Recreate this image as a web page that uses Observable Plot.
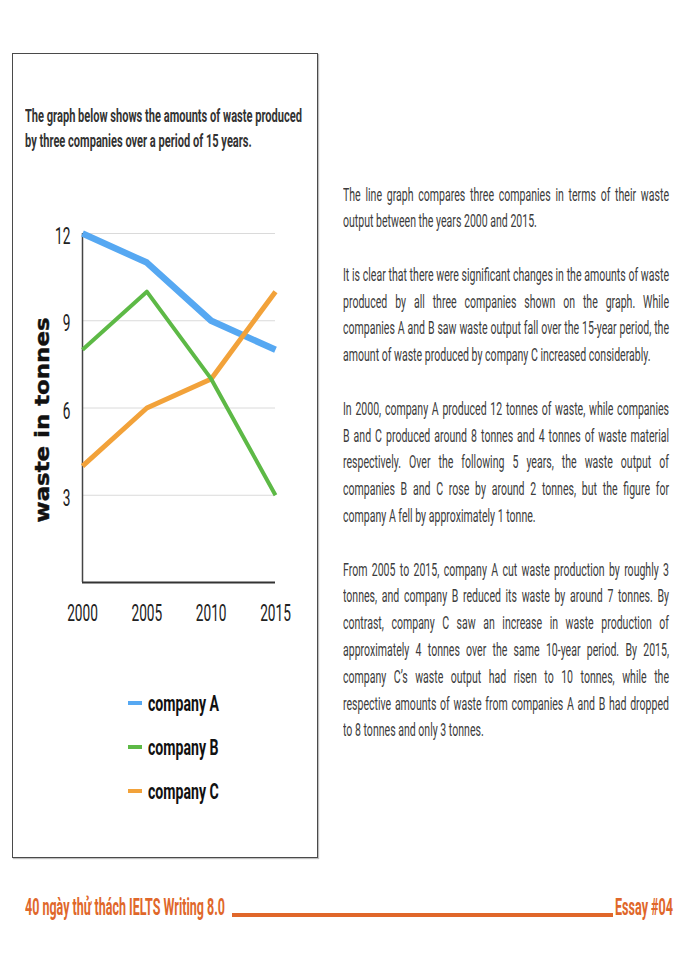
<!DOCTYPE html>
<html>
<head>
<meta charset="utf-8">
<script src="https://cdn.jsdelivr.net/npm/d3@7"></script>
<script src="https://cdn.jsdelivr.net/npm/@observablehq/plot@0.6"></script>
<style>
  html, body { margin: 0; padding: 0; background: #fff; }
  #page { position: relative; width: 700px; height: 960px; overflow: hidden; background: #fff; }
  #box { position: absolute; left: 12px; top: 53px; width: 304px; height: 803px; border: 1px solid #4a4a4a; box-shadow: 1px 1px 1px rgba(0,0,0,0.25); }
  .cond { display: inline-block; white-space: nowrap; transform-origin: left center; }
  #title { position: absolute; left: 25px; top: 104px; font-family: Roboto, sans-serif; font-weight: 700; font-size: 17.5px; line-height: 25px; color: #333; }
  #title div { height: 25px; }
  #chart { position: absolute; left: 20px; top: 200px; }
  #legend { position: absolute; left: 128px; top: 681px; font-family: Roboto, sans-serif; font-weight: 700; font-size: 22px; color: #111; }
  .lg { display: flex; align-items: center; height: 44px; }
  .sw { width: 14px; height: 3.5px; margin-right: 6px; flex: none; }
  #essay { position: absolute; left: 343px; top: 181.5px; font-family: Roboto, sans-serif; font-size: 18px; line-height: 26.8px; color: #3c3c3c; }
  #essay .para { margin-bottom: 26.8px; }
  #essay .ln { height: 26.8px; overflow: visible; transform-origin: left center; text-align: justify; }
  #essay .ln.full { text-align-last: justify; }
  #footer { position: absolute; left: 0; top: 0; width: 700px; height: 960px; font-family: Roboto, sans-serif; font-weight: 700; font-size: 23px; color: #e0672a; }
  #footer .fl { position: absolute; left: 25px; top: 895px; line-height: 26px; }
  #footer .fr { position: absolute; left: 615px; top: 895px; line-height: 26px; }
  #footer .rule { position: absolute; left: 232px; width: 381px; top: 913px; height: 3.5px; background: #e0672a; }
</style>
</head>
<body>
<div id="page">
  <div id="box"></div>
  <div id="title"></div>
  <div id="chart"></div>
  <div id="legend"></div>
  <div id="essay"></div>
  <div id="footer"></div>
</div>
<script>
// ---- Data ----
const years = [2000, 2005, 2010, 2015];
const companyA = [12, 11, 9, 8];
const companyB = [8, 10, 7, 3];
const companyC = [4, 6, 7, 10];
const seriesNames = ["company A", "company B", "company C"];
const seriesColors = ["#56a8f2", "#5db946", "#f2a23a"];
const yTicks = [3, 6, 9, 12];
const titleLines = [
  "The graph below shows the amounts of waste produced",
  "by three companies over a period of 15 years."
];
const yLabel = "waste in tonnes";
const paragraphs = [
  ["The line graph compares three companies in terms of their waste",
   "output between the years 2000 and 2015."],
  ["It is clear that there were significant changes in the amounts of waste",
   "produced by all three companies shown on the graph. While",
   "companies A and B saw waste output fall over the 15-year period, the",
   "amount of waste produced by company C increased considerably."],
  ["In 2000, company A produced 12 tonnes of waste, while companies",
   "B and C produced around 8 tonnes and 4 tonnes of waste material",
   "respectively. Over the following 5 years, the waste output of",
   "companies B and C rose by around 2 tonnes, but the figure for",
   "company A fell by approximately 1 tonne."],
  ["From 2005 to 2015, company A cut waste production by roughly 3",
   "tonnes, and company B reduced its waste by around 7 tonnes. By",
   "contrast, company C saw an increase in waste production of",
   "approximately 4 tonnes over the same 10-year period. By 2015,",
   "company C\u2019s waste output had risen to 10 tonnes, while the",
   "respective amounts of waste from companies A and B had dropped",
   "to 8 tonnes and only 3 tonnes."]
];
const footerLeft = "40 ngày thử thách IELTS Writing 8.0";
const footerRight = "Essay #04";

// ---- Table ----
const allValues = [companyA, companyB, companyC];
const rows = [];
seriesNames.forEach((name, i) => {
  years.forEach((yr, j) => rows.push({company: name, year: yr, value: allValues[i][j]}));
});
const widthFor = {"company A": 6.5, "company B": 4, "company C": 5};

const lineMarks = ["company A", "company C", "company B"].map(name =>
  Plot.line(rows.filter(d => d.company === name), {
    x: "year", y: "value",
    stroke: seriesColors[seriesNames.indexOf(name)], strokeWidth: widthFor[name],
    strokeLinecap: "butt", strokeLinejoin: "round"
  })
);

const plot = Plot.plot({
  width: 290,
  height: 440,
  marginLeft: 62,
  marginTop: 33,
  marginRight: 35,
  marginBottom: 58,
  style: { fontFamily: "Roboto, sans-serif", background: "transparent", overflow: "visible" },
  x: { domain: [2000, 2015] },
  y: { domain: [0, 12] },
  marks: [
    Plot.gridY(yTicks, { stroke: "#dadada", strokeOpacity: 1, strokeWidth: 1 }),
    Plot.axisX(years, { tickSize: 0, tickPadding: 0, dy: 31, lineAnchor: "middle", tickFormat: d => String(d), fontSize: 24, fill: "#222", label: null }),
    Plot.axisY(yTicks, { tickSize: 0, tickPadding: 12, dy: 3, fontSize: 24, fill: "#222", label: null }),
    Plot.ruleY([0], { stroke: "#333", strokeWidth: 2 }),
    Plot.ruleX([2000], { stroke: "#444", strokeWidth: 1.5 }),
    Plot.text([yLabel], {
      frameAnchor: "left", dx: -40, dy: 12, rotate: -90, text: d => d,
      fontSize: 19, fontWeight: "bold", fontFamily: "DejaVu Sans, sans-serif", fill: "#111",
      stroke: "#111", strokeWidth: 0.4,
      textAnchor: "middle", lineAnchor: "middle"
    }),
    ...lineMarks
  ]
});
document.getElementById("chart").appendChild(plot);

// condense SVG text (narrow fonts are not installed)
function squeezeSvg(el, factor) {
  const w = el.getComputedTextLength();
  el.setAttribute("textLength", (w * factor).toFixed(2));
  el.setAttribute("lengthAdjust", "spacingAndGlyphs");
}
plot.querySelectorAll('g[aria-label="x-axis tick label"] text, g[aria-label="y-axis tick label"] text')
  .forEach(t => squeezeSvg(t, 0.57));
plot.querySelectorAll("text").forEach(t => {
  if (t.textContent === yLabel) {
    t.setAttribute("textLength", "205");
    t.setAttribute("lengthAdjust", "spacingAndGlyphs");
  }
});

// condensed HTML helpers
function makeCond(parent, text) {
  const s = document.createElement("span");
  s.className = "cond";
  s.textContent = text;
  parent.appendChild(s);
  return s;
}

// Title
const titleEl = document.getElementById("title");
const titleSpans = titleLines.map(t => { const d = document.createElement("div"); titleEl.appendChild(d); return makeCond(d, t); });
const tScale = 277 / titleSpans[0].getBoundingClientRect().width;
titleSpans.forEach(s => s.style.transform = `scaleX(${tScale})`);

// Legend
const legend = document.getElementById("legend");
const legendSpans = seriesNames.map((name, i) => {
  const row = document.createElement("div");
  row.className = "lg";
  const sw = document.createElement("div");
  sw.className = "sw";
  sw.style.background = seriesColors[i];
  row.appendChild(sw);
  legend.appendChild(row);
  return makeCond(row, name);
});
const lScale = 71 / legendSpans[0].getBoundingClientRect().width;
legendSpans.forEach(s => s.style.transform = `scaleX(${lScale})`);

// Essay: measure natural widths to find condensing factor
const essay = document.getElementById("essay");
const meas = document.createElement("span");
meas.style.cssText = "position:absolute;visibility:hidden;white-space:nowrap;font-family:Roboto,sans-serif;font-size:18px;";
document.body.appendChild(meas);
let maxW = 0;
paragraphs.forEach(p => p.slice(0, -1).forEach(line => {
  meas.textContent = line;
  maxW = Math.max(maxW, meas.getBoundingClientRect().width);
}));
meas.remove();
const eScale = 326 / (maxW + 2);
paragraphs.forEach(p => {
  const pd = document.createElement("div");
  pd.className = "para";
  p.forEach((line, k) => {
    const ld = document.createElement("div");
    ld.className = "ln" + (k < p.length - 1 ? " full" : "");
    ld.style.width = (326 / eScale) + "px";
    ld.style.transform = `scaleX(${eScale})`;
    ld.textContent = line;
    pd.appendChild(ld);
  });
  essay.appendChild(pd);
});

// Footer
const footer = document.getElementById("footer");
const fl = document.createElement("div"); fl.className = "fl"; footer.appendChild(fl);
const fr = document.createElement("div"); fr.className = "fr"; footer.appendChild(fr);
const rule = document.createElement("div"); rule.className = "rule"; footer.appendChild(rule);
const flS = makeCond(fl, footerLeft);
const frS = makeCond(fr, footerRight);
flS.style.transform = `scaleX(${200 / flS.getBoundingClientRect().width})`;
frS.style.transform = `scaleX(${58 / frS.getBoundingClientRect().width})`;
</script>
</body>
</html>
